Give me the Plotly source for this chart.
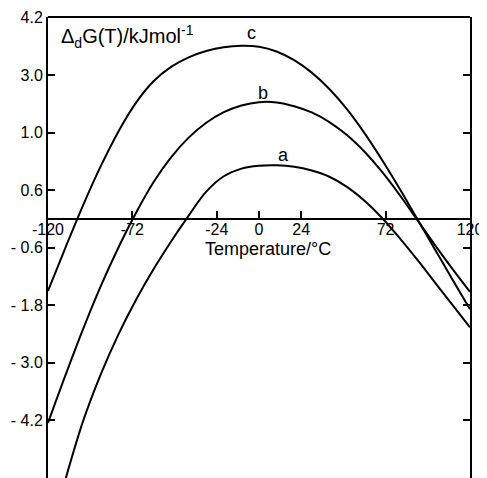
import plotly.graph_objects as go

# Temperature (°C) and Δd G values (kJ/mol)
T_a = [-110, -100, -90, -80, -70, -60, -50, -40, -30, -20, -10, 0, 10, 20, 30, 40, 50, 60, 70, 80, 90, 100, 110, 120]
V_a = [-5.42, -4.21, -3.24, -2.41, -1.69, -1.05, -0.47, 0.07, 0.57, 0.89, 1.05, 1.11, 1.12, 1.09, 1.01, 0.88, 0.67, 0.38, 0.02, -0.40, -0.85, -1.32, -1.79, -2.26]

T_b = [-120, -110, -100, -90, -80, -70, -60, -50, -40, -30, -20, -10, 0, 10, 20, 30, 40, 50, 60, 70, 80, 90, 100, 110, 120]
V_b = [-4.25, -3.25, -2.29, -1.4, -0.6, 0.125, 0.765, 1.285, 1.695, 2.005, 2.225, 2.365, 2.435, 2.43, 2.35, 2.22, 2.02, 1.75, 1.40, 0.98, 0.50, -0.02, -0.54, -1.04, -1.52]

T_c = [-120, -110, -100, -90, -80, -70, -60, -50, -40, -30, -20, -10, 0, 10, 20, 30, 40, 50, 60, 70, 80, 90, 100, 110, 120]
V_c = [-1.5, -0.59, 0.29, 1.10, 1.82, 2.42, 2.87, 3.17, 3.37, 3.50, 3.58, 3.61, 3.59, 3.49, 3.31, 3.05, 2.71, 2.29, 1.79, 1.23, 0.63, 0.0, -0.63, -1.26, -1.88]

x_tickvals = [-120, -72, -24, 0, 24, 72, 120]
x_ticktext = ["-120", "-72", "-24", "0", "24", "72", "120"]
y_tickvals = [4.2, 3.0, 1.8, 0.6, -0.6, -1.8, -3.0, -4.2]
y_ticktext = ["4.2", "3.0", "1.0", "0.6", "- 0.6", "- 1.8", "- 3.0", "- 4.2"]

curve_labels = [("a", 13.7, 1.33), ("b", 2.3, 2.62), ("c", -4.0, 3.88)]

YMIN, YMAX = -5.40, 4.21
FONT = "Liberation Sans, Arial, sans-serif"

fig = go.Figure()
for T, V in [(T_a, V_a), (T_b, V_b), (T_c, V_c)]:
    fig.add_trace(go.Scatter(x=T, y=V, mode="lines",
                             line=dict(color="black", width=2, shape="spline", smoothing=1.0),
                             showlegend=False, hoverinfo="skip"))

for txt, x, y in curve_labels:
    fig.add_annotation(x=x, y=y, text=txt, showarrow=False,
                       font=dict(family=FONT, size=18, color="black"))

fig.add_annotation(x=4.9, y=-0.62, text="Temperature/°C", showarrow=False,
                   font=dict(family=FONT, size=18, color="black"),
                   xanchor="center", yanchor="middle")

fig.add_annotation(x=-113.5, y=3.8,
                   text="Δ<sub>d</sub>G(T)/kJmol<sup>-1</sup>", showarrow=False,
                   xanchor="left", yanchor="middle",
                   font=dict(family=FONT, size=20, color="black"))

# top border
fig.add_shape(type="line", xref="paper", yref="paper", x0=0, x1=1, y0=1, y1=1,
              line=dict(color="black", width=2))

# the page body has an 8px margin; the figure is sized so the frame lands where the reference has it
fig.update_layout(
    width=479, height=470,
    margin=dict(l=40, r=17, t=9, b=0, autoexpand=False),
    paper_bgcolor="white", plot_bgcolor="white",
    font=dict(family=FONT, size=16, color="black"),
    xaxis=dict(range=[-120, 120], tickvals=x_tickvals, ticktext=x_ticktext,
               showgrid=False, zeroline=False, showline=True, linecolor="black",
               linewidth=2, ticks="inside", ticklen=7, tickwidth=2, tickcolor="black",
               anchor="free", position=(0 - YMIN) / (YMAX - YMIN),
               tickfont=dict(family=FONT, size=16, color="black")),
    yaxis=dict(range=[YMIN, YMAX], tickvals=y_tickvals, ticktext=y_ticktext,
               showgrid=False, zeroline=False, showline=True, linecolor="black",
               linewidth=2, ticks="inside", ticklen=7, tickwidth=2, tickcolor="black",
               mirror="ticks", tickfont=dict(family=FONT, size=16, color="black")),
)
try:
    fig.update_xaxes(ticklabelstandoff=-4)
except Exception:
    pass

fig.write_html("out.html")
